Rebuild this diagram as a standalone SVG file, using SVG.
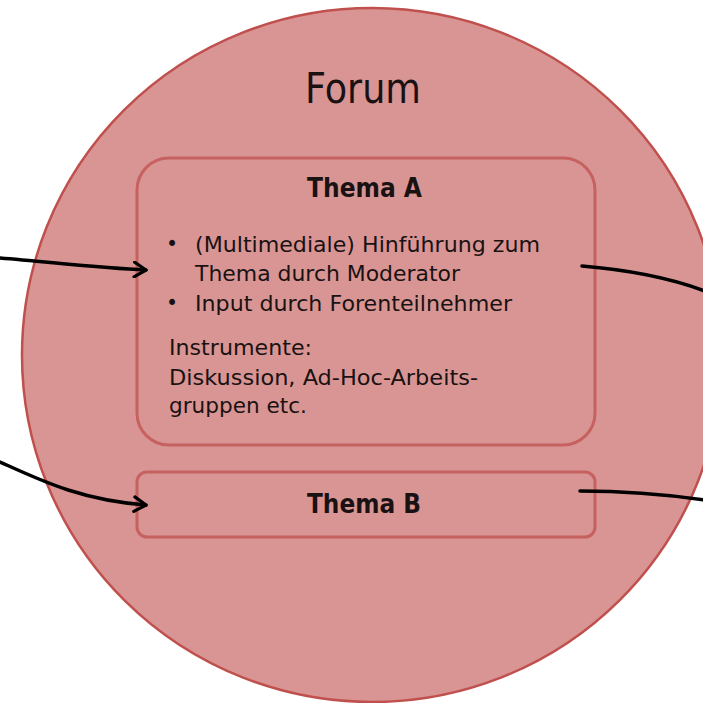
<svg xmlns="http://www.w3.org/2000/svg" width="703" height="703" viewBox="0 0 703 703">
<style>
.t{font-family:"DejaVu Sans","Liberation Sans",sans-serif;fill:#1a1212}
.body{font-size:20.5px}
.title{font-family:"DejaVu Sans Condensed","DejaVu Sans",sans-serif;font-size:26px;font-weight:bold}
.box{fill:#D99594;stroke:#C0504D;stroke-opacity:0.75;stroke-width:3}
.con{fill:none;stroke:#000;stroke-width:3.5;stroke-linecap:round}
</style>
<defs>
<marker id="ah" viewBox="0 0 12 12" refX="10" refY="6" markerWidth="5" markerHeight="5" markerUnits="strokeWidth" orient="auto">
<path d="M2,1 L10,6 L2,11" fill="none" stroke="#000" stroke-width="2.2" stroke-linecap="round" stroke-linejoin="round"/>
</marker>
</defs>
<rect width="703" height="703" fill="#fff"/>
<g id="forum">
<ellipse cx="372" cy="355" rx="350" ry="347" fill="#D99594" stroke="#C0504D" stroke-width="2.5"/>
<text class="t" x="305" y="103" font-size="42" font-family="DejaVu Sans Condensed, DejaVu Sans, sans-serif" textLength="116" lengthAdjust="spacingAndGlyphs">Forum</text>
</g>
<g id="themaA">
<rect class="box" x="137" y="158" width="458" height="287" rx="32"/>
<text class="t title" x="307" y="197" textLength="115" lengthAdjust="spacingAndGlyphs">Thema A</text>
<text class="t body" x="166" y="251">•</text>
<text class="t body" x="195" y="252" textLength="345" lengthAdjust="spacingAndGlyphs">(Multimediale) Hinführung zum</text>
<text class="t body" x="195" y="281" textLength="265" lengthAdjust="spacingAndGlyphs">Thema durch Moderator</text>
<text class="t body" x="166" y="310">•</text>
<text class="t body" x="195" y="311" textLength="317" lengthAdjust="spacingAndGlyphs">Input durch Forenteilnehmer</text>
<text class="t body" x="169" y="355" textLength="143" lengthAdjust="spacingAndGlyphs">Instrumente:</text>
<text class="t body" x="169" y="385" textLength="309" lengthAdjust="spacingAndGlyphs">Diskussion, Ad-Hoc-Arbeits-</text>
<text class="t body" x="169" y="413" textLength="138" lengthAdjust="spacingAndGlyphs">gruppen etc.</text>
</g>
<g id="themaB">
<rect class="box" x="137" y="472" width="458" height="65" rx="10"/>
<text class="t title" x="307" y="513" textLength="114" lengthAdjust="spacingAndGlyphs">Thema B</text>
</g>
<g id="connectors">
<path class="con" d="M0,258 C50,262 100,268 146,270" marker-end="url(#ah)"/>
<path class="con" d="M0,462 C40,480 80,500 146,505" marker-end="url(#ah)"/>
<path class="con" d="M582,266 C630,270 670,278 705,291"/>
<path class="con" d="M580,491 C630,491 670,495 705,500"/>
</g>
</svg>
